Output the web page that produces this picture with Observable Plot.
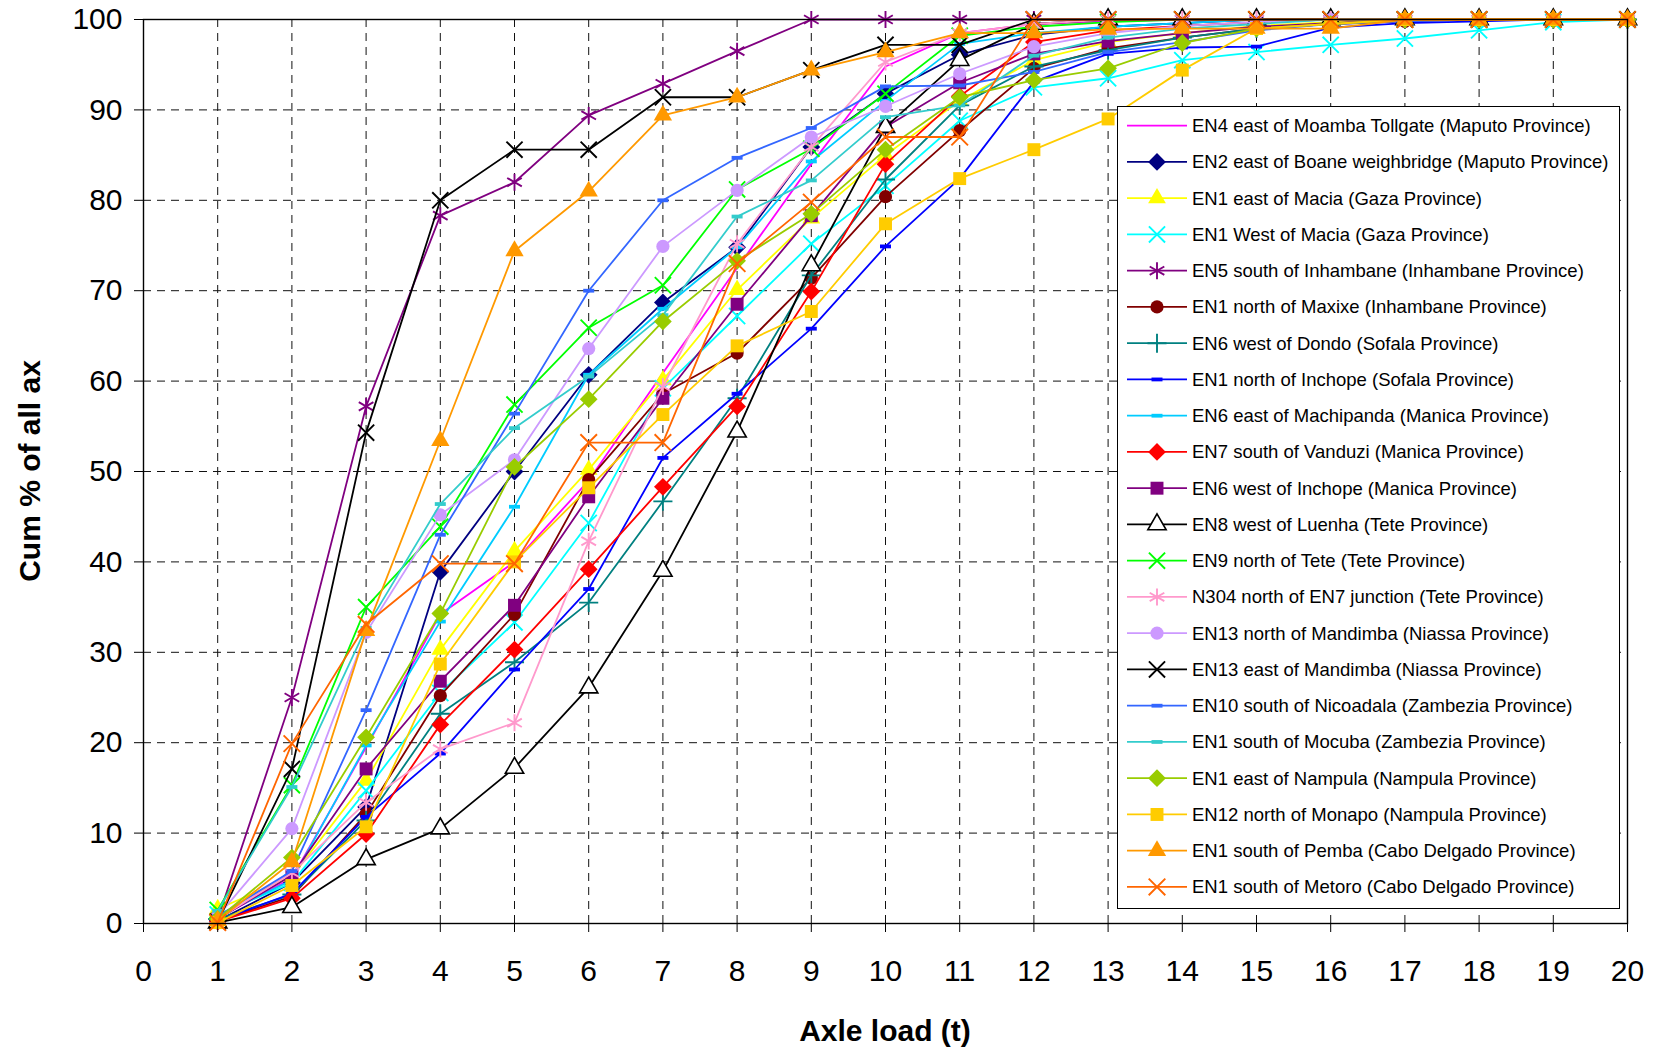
<!DOCTYPE html>
<html><head><meta charset="utf-8">
<script src="https://cdn.jsdelivr.net/npm/d3@7"></script>
<script src="https://cdn.jsdelivr.net/npm/@observablehq/plot@0.6"></script>
<style>
body{margin:0;background:#fff;}
svg{display:block;font-family:"Liberation Sans",Arial,sans-serif;}
</style>
</head><body><div id="chart"></div>
<script>
// ---------- data ----------
const axleLoad = [1,2,3,4,5,6,7,8,9,10,11,12,13,14,15,16,17,18,19,20];
const xTicks = [0,1,2,3,4,5,6,7,8,9,10,11,12,13,14,15,16,17,18,19,20];
const yTicks = [0,10,20,30,40,50,60,70,80,90,100];

const en4Moamba        = [0.6,5.0,19.5,34.2,40.0,49.0,60.9,72.5,84.0,94.8,98.5,99.5,99.8,100,100,100,100,100,100,100];
const en2Boane         = [0.3,4.5,12.9,38.9,50.0,60.7,68.7,74.8,85.9,91.8,96.1,98.3,99.2,99.6,100,100,100,100,100,100];
const en1EastMacia     = [1.6,5.2,15.8,30.3,41.2,50.2,60.1,70.1,78.0,85.0,91.0,95.5,97.5,98.5,99.3,99.7,100,100,100,100];
const en1WestMacia     = [1.0,4.5,14.7,25.5,33.3,44.3,59.2,67.2,75.2,81.6,88.8,92.5,93.5,95.5,96.4,97.2,97.9,98.8,99.7,100];
const en5Inhambane     = [0.5,25.0,57.2,78.3,82.0,89.4,92.9,96.5,100,100,100,100,100,100,100,100,100,100,100,100];
const en1Maxixe        = [0.3,3.0,12.1,25.2,34.2,49.1,58.6,63.1,71.4,80.4,87.7,94.6,96.8,98.0,99.0,99.5,99.8,100,100,100];
const en6Dondo         = [0.5,3.2,11.4,23.2,28.9,35.5,46.7,58.1,71.7,82.3,90.5,94.8,96.6,98.0,99.0,99.5,100,100,100,100];
const en1Inchope       = [0.3,3.3,11.8,18.8,28.1,37.0,51.5,58.6,65.8,74.9,82.4,93.1,96.2,96.9,97.0,99.1,99.6,99.8,100,100];
const en6Machipanda    = [0.8,4.8,19.7,33.4,46.1,60.7,68.0,74.8,84.3,91.0,97.3,98.5,99.2,99.6,100,100,100,100,100,100];
const en7Vanduzi       = [0.2,2.8,9.9,22.0,30.3,39.2,48.3,57.2,69.9,84.0,91.5,97.5,98.8,99.3,99.7,100,100,100,100,100];
const en6WestInchope   = [0.5,5.3,17.1,26.8,35.2,47.2,58.1,68.5,78.3,88.1,93.0,96.2,97.6,98.5,99.2,99.6,100,100,100,100];
const en8Luenha        = [0.1,1.8,7.1,10.5,17.2,26.1,39.0,54.4,72.8,88.1,95.5,99.5,100,100,100,100,100,100,100,100];
const en9Tete          = [1.5,15.3,35.0,43.9,57.4,65.9,70.6,81.2,85.7,91.8,98.2,99.2,99.7,100,100,100,100,100,100,100];
const n304Junction     = [0.5,5.6,13.4,19.3,22.2,42.3,59.4,75.2,85.9,95.3,98.5,99.5,100,100,100,100,100,100,100,100];
const en13NorthMandimba= [0.8,10.5,32.2,45.2,51.3,63.6,74.9,81.1,87.0,90.4,94.0,97.0,98.5,99.3,99.7,100,100,100,100,100];
const en13EastMandimba = [0.2,17.1,54.3,80.0,85.6,85.6,91.4,91.4,94.4,97.2,97.2,100,100,100,100,100,100,100,100,100];
const en10Nicoadala    = [0.8,5.8,23.6,43.0,56.4,70.0,80.0,84.7,88.0,92.6,92.7,94.2,96.4,97.5,98.8,99.5,99.8,100,100,100];
const en1Mocuba        = [1.4,15.1,32.7,46.4,54.8,60.5,67.3,78.2,82.2,89.2,90.5,96.0,98.0,99.0,99.5,100,100,100,100,100];
const en1Nampula       = [0.5,7.3,20.6,34.3,50.5,58.0,66.6,73.3,78.5,85.6,91.4,93.3,94.6,97.4,99.0,99.5,100,100,100,100];
const en12Monapo       = [0.1,4.2,10.7,28.7,40.0,48.2,56.3,63.9,67.7,77.4,82.4,85.6,89.0,94.4,99.0,99.5,100,100,100,100];
const en1Pemba         = [0.3,6.8,32.4,53.4,74.4,81.0,89.4,91.4,94.4,96.4,98.5,98.5,98.9,99.0,99.0,99.0,100,100,100,100];
const en1Metoro        = [0.1,19.9,33.1,39.8,39.8,53.2,53.2,73.0,79.8,87.0,87.0,100,100,100,100,100,100,100,100,100];

const seriesNames = [
  "EN4 east of Moamba Tollgate (Maputo Province)",
  "EN2 east of Boane weighbridge (Maputo Province)",
  "EN1 east of Macia (Gaza Province)",
  "EN1 West of Macia (Gaza Province)",
  "EN5 south of Inhambane (Inhambane Province)",
  "EN1 north of Maxixe (Inhambane Province)",
  "EN6 west of Dondo (Sofala Province)",
  "EN1 north of Inchope (Sofala Province)",
  "EN6 east of Machipanda (Manica Province)",
  "EN7 south of Vanduzi (Manica Province)",
  "EN6 west of Inchope (Manica Province)",
  "EN8 west of Luenha (Tete Province)",
  "EN9 north of Tete (Tete Province)",
  "N304 north of EN7 junction (Tete Province)",
  "EN13 north of Mandimba (Niassa Province)",
  "EN13 east of Mandimba (Niassa Province)",
  "EN10 south of Nicoadala (Zambezia Province)",
  "EN1 south of Mocuba (Zambezia Province)",
  "EN1 east of Nampula (Nampula Province)",
  "EN12 north of Monapo (Nampula Province)",
  "EN1 south of Pemba (Cabo Delgado Province)",
  "EN1 south of Metoro (Cabo Delgado Province)"
];
const seriesValues = [en4Moamba,en2Boane,en1EastMacia,en1WestMacia,en5Inhambane,en1Maxixe,en6Dondo,
  en1Inchope,en6Machipanda,en7Vanduzi,en6WestInchope,en8Luenha,en9Tete,n304Junction,en13NorthMandimba,
  en13EastMandimba,en10Nicoadala,en1Mocuba,en1Nampula,en12Monapo,en1Pemba,en1Metoro];

// ---------- styles ----------
const dashSymbol = {draw(ctx, size){ ctx.rect(-5.5, -1.9, 11, 3.8); }};
const seriesStyle = [
  {color:"#FF00FF", symbol:null},
  {color:"#000080", symbol:"diamond2", r:8, kind:"fill"},
  {color:"#FFFF00", symbol:"triangle", r:6.6, kind:"fill"},
  {color:"#00FFFF", symbol:"times", r:7.4, kind:"stroke"},
  {color:"#800080", symbol:"asterisk", r:8, kind:"stroke"},
  {color:"#800000", symbol:"circle", r:6.6, kind:"fill"},
  {color:"#008080", symbol:"plus", r:6.2, kind:"stroke"},
  {color:"#0000FF", symbol:"dash", kind:"fill"},
  {color:"#00CCFF", symbol:"dash", kind:"fill"},
  {color:"#FF0000", symbol:"diamond2", r:8, kind:"fill"},
  {color:"#800080", symbol:"square", r:7.3, kind:"fill"},
  {color:"#000000", symbol:"triangle", r:6.8, kind:"open"},
  {color:"#00FF00", symbol:"times", r:7.4, kind:"stroke"},
  {color:"#FF99CC", symbol:"asterisk", r:8, kind:"stroke"},
  {color:"#CC99FF", symbol:"circle", r:6.6, kind:"fill"},
  {color:"#000000", symbol:"times", r:7.4, kind:"stroke"},
  {color:"#3366FF", symbol:"dash", kind:"fill"},
  {color:"#33CCCC", symbol:"dash", kind:"fill"},
  {color:"#99CC00", symbol:"diamond2", r:8, kind:"fill"},
  {color:"#FFCC00", symbol:"square", r:7.3, kind:"fill"},
  {color:"#FF9900", symbol:"triangle", r:6.8, kind:"fill"},
  {color:"#FF6600", symbol:"times", r:7.6, kind:"stroke"}
];

function dotOpts(st){
  const sym = st.symbol === "dash" ? dashSymbol : st.symbol;
  const o = {x:"x", y:"y", symbol: sym, r: st.r || 5};
  if (st.kind === "fill") { o.fill = st.color; o.stroke = "none"; }
  else if (st.kind === "open") { o.fill = "white"; o.stroke = st.color; o.strokeWidth = 1.6; }
  else { o.fill = "none"; o.stroke = st.color; o.strokeWidth = 1.9; }
  return o;
}

const marks = [
  Plot.gridX(xTicks, {stroke:"#111", strokeOpacity:1, strokeWidth:1, strokeDasharray:"8,6"}),
  Plot.gridY(yTicks, {stroke:"#111", strokeOpacity:1, strokeWidth:1, strokeDasharray:"8,6"})
];
seriesValues.forEach((vals, si) => {
  const data = vals.map((v, i) => ({x: axleLoad[i], y: v}));
  const st = seriesStyle[si];
  marks.push(Plot.line(data, {x:"x", y:"y", stroke: st.color, strokeWidth: 1.8}));
  if (st.symbol) marks.push(Plot.dot(data, dotOpts(st)));
});
marks.push(Plot.axisX(xTicks, {tickSize:9, tickPadding:27, fontSize:30, label:null, stroke:"#000"}));
marks.push(Plot.axisY(yTicks, {tickSize:9, tickPadding:12, fontSize:30, label:null, stroke:"#000"}));
marks.push(Plot.frame({stroke:"#000", strokeWidth:1.4}));

const W = 1653, H = 1051;
const chart = Plot.plot({
  width: W, height: H,
  marginLeft: 143, marginRight: 26, marginTop: 19, marginBottom: 128,
  x: {domain:[0,20]},
  y: {domain:[0,100]},
  style: {fontFamily:'"Liberation Sans", Arial, sans-serif', fontSize:"30px", color:"#000", background:"#fff"},
  marks
});
document.getElementById("chart").appendChild(chart);

// ---------- titles and legend ----------
const svg = d3.select(chart);
svg.append("text").attr("x", 885).attr("y", 1041).attr("text-anchor","middle")
  .attr("font-size", 30).attr("font-weight","bold").attr("fill","#000").text("Axle load (t)");
svg.append("text").attr("transform","translate(40,471) rotate(-90)").attr("text-anchor","middle")
  .attr("font-size", 30).attr("font-weight","bold").attr("fill","#000").text("Cum % of all ax");

const lg = svg.append("g").attr("text-anchor","start");
lg.append("rect").attr("x",1117.5).attr("y",106.5).attr("width",502).attr("height",802)
  .attr("fill","#fff").attr("stroke","#000").attr("stroke-width",1);
const d3types = {diamond2:d3.symbolDiamond2, triangle:d3.symbolTriangle, times:d3.symbolTimes,
  asterisk:d3.symbolAsterisk, circle:d3.symbolCircle, plus:d3.symbolPlus, square:d3.symbolSquare, dash:dashSymbol};
seriesNames.forEach((name, i) => {
  const st = seriesStyle[i];
  const cy = 125.7 + 36.25 * i;
  lg.append("line").attr("x1",1127).attr("x2",1187).attr("y1",cy).attr("y2",cy)
    .attr("stroke", st.color).attr("stroke-width",1.8);
  if (st.symbol) {
    const r = st.r || 5;
    const p = lg.append("path").attr("transform",`translate(1157,${cy})`)
      .attr("d", d3.symbol().type(d3types[st.symbol]).size(Math.PI * r * r)());
    if (st.kind === "fill") p.attr("fill", st.color);
    else if (st.kind === "open") p.attr("fill","#fff").attr("stroke",st.color).attr("stroke-width",1.6);
    else p.attr("fill","none").attr("stroke",st.color).attr("stroke-width",1.9);
  }
  lg.append("text").attr("x",1192).attr("y",cy).attr("dy","0.35em").attr("font-size",18.5)
    .attr("text-anchor","start").attr("fill","#000").text(name);
});
</script>
</body></html>
